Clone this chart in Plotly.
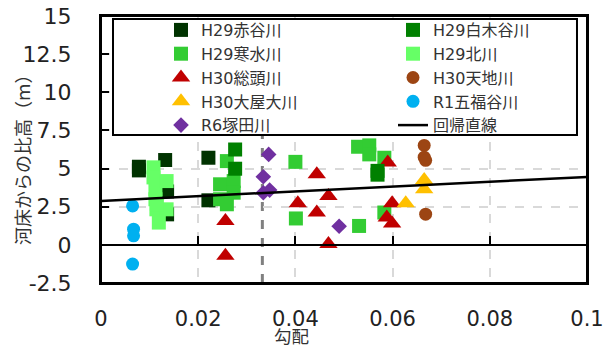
import plotly.graph_objects as go

# ---------------- data ----------------
akadani_x = [0.0078, 0.0078, 0.0132, 0.0136, 0.0136, 0.0221, 0.0221]
akadani_y = [5.12, 4.88, 5.56, 3.50, 2.00, 5.71, 2.92]

shirakidani_x = [0.0276, 0.0276, 0.0569, 0.0569]
shirakidani_y = [6.25, 4.99, 4.85, 4.60]

kansui_x = [0.0259, 0.0245, 0.0273, 0.0273, 0.0245, 0.0259, 0.0400, 0.0401,
            0.0529, 0.0552, 0.0552, 0.0583, 0.0531, 0.0583]
kansui_y = [5.49, 3.97, 4.18, 3.42, 2.99, 2.66, 5.44, 1.73,
            6.43, 6.52, 5.93, 5.71, 1.24, 2.12]

kita_x = [0.0108, 0.0108, 0.0112, 0.0112, 0.0114, 0.0135, 0.0135, 0.0115, 0.0119]
kita_y = [5.08, 4.42, 3.64, 2.99, 2.33, 4.18, 2.33, 2.66, 1.46]

sokashira_x = [0.0256, 0.0256, 0.0444, 0.0405, 0.0468, 0.0444, 0.0468,
               0.0590, 0.0599, 0.0588, 0.0599]
sokashira_y = [1.57, -0.72, 4.62, 2.73, 3.20, 2.12, 0.05,
               5.39, 2.73, 1.79, 1.40]

tenchi_x = [0.0665, 0.0665, 0.0668, 0.0668]
tenchi_y = [6.52, 5.75, 5.54, 2.01]

oyaoo_x = [0.0665, 0.0665, 0.0627]
oyaoo_y = [4.25, 3.64, 2.73]

gofukudani_x = [0.0065, 0.0067, 0.0067, 0.0065]
gofukudani_y = [2.55, 1.03, 0.59, -1.26]

tsukada_x = [0.0345, 0.0334, 0.0334, 0.0347, 0.0490]
tsukada_y = [5.93, 4.46, 3.42, 3.59, 1.22]

reg_x = [0.0, 0.1]
reg_y = [2.88, 4.45]

vline_x = 0.0332

x_ticks = [0, 0.02, 0.04, 0.06, 0.08, 0.1]
x_ticktext = ["0", "0.02", "0.04", "0.06", "0.08", "0.1"]
y_ticks = [-2.5, 0, 2.5, 5, 7.5, 10, 12.5, 15]
y_ticktext = ["-2.5", "0", "2.5", "5", "7.5", "10", "12.5", "15"]

FONT = "DejaVu Sans, Noto Sans CJK JP, sans-serif"

fig = go.Figure()

def add(x, y, name, color, symbol, size, legend):
    fig.add_trace(go.Scatter(
        x=x, y=y, mode="markers", name=name, legend=legend,
        marker=dict(color=color, symbol=symbol, size=size, line=dict(width=0)),
    ))

add(akadani_x, akadani_y, "H29赤谷川", "#003300", "square", 14, "legend")
add(kansui_x, kansui_y, "H29寒水川", "#33cc33", "square", 14, "legend")
add(sokashira_x, sokashira_y, "H30総頭川", "#c00000", "triangle-up", 16, "legend")
add(oyaoo_x, oyaoo_y, "H30大屋大川", "#ffc000", "triangle-up", 16, "legend")
add(tsukada_x, tsukada_y, "R6塚田川", "#7030a0", "diamond", 12, "legend")
add(shirakidani_x, shirakidani_y, "H29白木谷川", "#008000", "square", 14, "legend2")
add(kita_x, kita_y, "H29北川", "#66ff66", "square", 14, "legend2")
add(tenchi_x, tenchi_y, "H30天地川", "#9c4513", "circle", 13, "legend2")
add(gofukudani_x, gofukudani_y, "R1五福谷川", "#00b0f0", "circle", 13, "legend2")

fig.add_trace(go.Scatter(
    x=reg_x, y=reg_y, mode="lines", name="回帰直線", legend="legend2",
    xaxis="x2", line=dict(color="black", width=2.5),
))

fig.add_shape(type="line", x0=vline_x, x1=vline_x, xref="x", y0=0, y1=1, yref="paper",
              line=dict(color="#808080", width=3, dash="dash"), layer="between")
fig.add_shape(type="rect", xref="paper", yref="paper",
              x0=0.0247, x1=0.9794, y0=0.5543, y1=0.9888,
              line=dict(color="black", width=2), fillcolor="white", layer="above")
fig.add_shape(type="rect", xref="paper", yref="paper",
              x0=0, x1=1, y0=0, y1=1,
              line=dict(color="black", width=2), fillcolor="rgba(0,0,0,0)", layer="above")

fig.update_layout(
    width=614, height=349,
    margin=dict(l=101, r=27, t=16, b=66, autoexpand=False),
    paper_bgcolor="white", plot_bgcolor="white",
    font=dict(family=FONT, color="#333333", size=22),
    xaxis=dict(
        range=[0, 0.1], tickvals=x_ticks, ticktext=x_ticktext,
        showgrid=True, gridcolor="#d9d9d9", gridwidth=1.5, griddash="dash",
        showline=True, linecolor="black", linewidth=2, mirror=True,
        ticks="", zeroline=False, ticklabelstandoff=16, automargin=False,
        tickfont=dict(size=21, color="#222222"),
    ),
    xaxis2=dict(
        range=[0, 0.1], overlaying="x", anchor="free", position=2.5 / 17.5,
        tickvals=x_ticks, showticklabels=False, showgrid=False, zeroline=False,
        showline=True, linecolor="black", linewidth=2, automargin=False,
        ticks="inside", ticklen=8, tickwidth=2, tickcolor="black",
    ),
    yaxis=dict(
        range=[-2.5, 15], tickvals=y_ticks, ticktext=y_ticktext,
        showgrid=True, gridcolor="#d9d9d9", gridwidth=1.5, griddash="dash",
        showline=True, linecolor="black", linewidth=2, mirror=True,
        ticks="inside", ticklen=8, tickwidth=2, tickcolor="black",
        zeroline=False, ticklabelstandoff=23, automargin=False,
        tickfont=dict(size=22, color="#222222"),
    ),
    legend=dict(
        x=(161 - 101) / 486, y=(283 - 13) / 267, xanchor="left", yanchor="top",
        bgcolor="rgba(0,0,0,0)", borderwidth=0,
        font=dict(family=FONT, size=16, color="#333333"),
        orientation="v", tracegroupgap=0,
    ),
    legend2=dict(
        x=(393 - 101) / 486, y=(283 - 13) / 267, xanchor="left", yanchor="top",
        bgcolor="rgba(0,0,0,0)", borderwidth=0,
        font=dict(family=FONT, size=16, color="#333333"),
        orientation="v", tracegroupgap=0,
    ),
    annotations=[
        dict(text="河床からの比高（m）", xref="paper", yref="paper",
             x=-0.1605, y=0.479, xanchor="center", yanchor="middle",
             textangle=-90, showarrow=False,
             font=dict(family=FONT, size=18, color="#333333")),
        dict(text="勾配", xref="paper", yref="paper",
             x=0.393, y=(283 - 337) / 267, xanchor="center", yanchor="middle",
             showarrow=False,
             font=dict(family=FONT, size=17.5, color="#333333")),
    ],
)

fig.write_html("out.html", config={"displayModeBar": False},
               post_script="document.body.style.margin='0';document.body.style.padding='0';")
